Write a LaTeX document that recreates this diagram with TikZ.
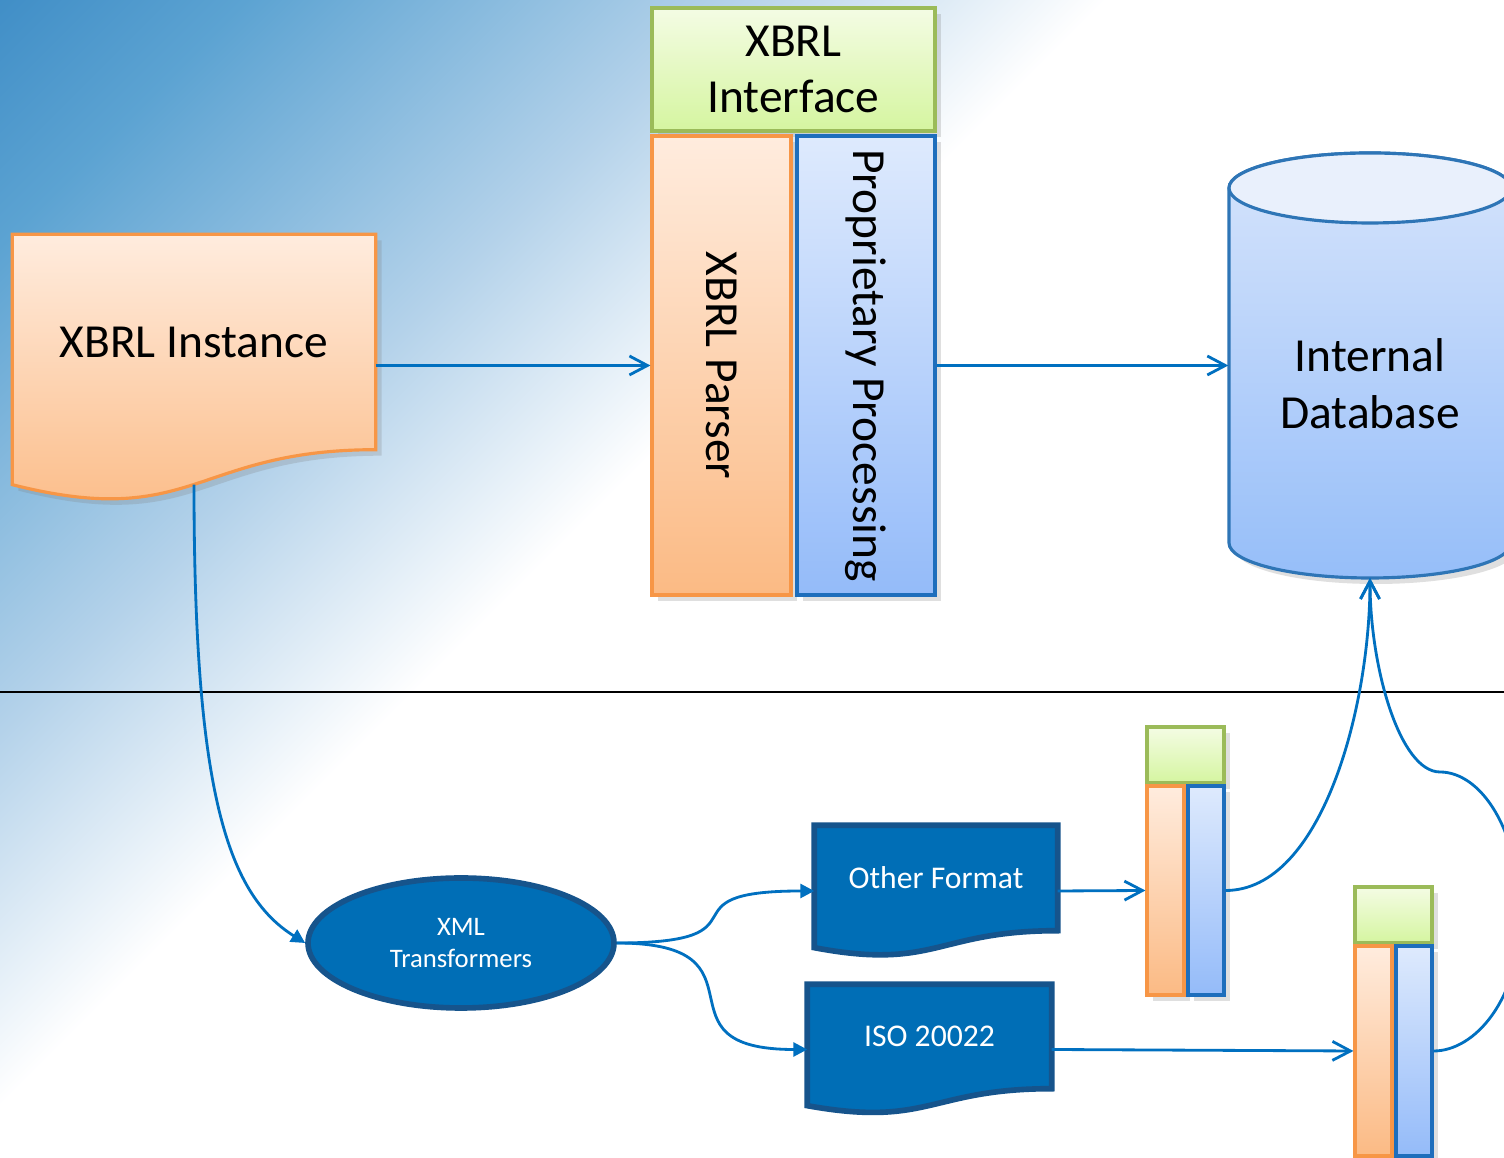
\documentclass[tikz,border=0pt]{standalone}
\usepackage{fontspec}
\setmainfont{Carlito}
\usetikzlibrary{arrows.meta,shadows,backgrounds,shapes.geometric}

\definecolor{lineblue}{RGB}{0,112,192}
\definecolor{darkblue}{RGB}{0,110,182}
\definecolor{rimblue}{RGB}{22,84,140}
\definecolor{orangetop}{RGB}{255,236,222}
\definecolor{orangebot}{RGB}{251,186,132}
\definecolor{orangerim}{RGB}{247,150,70}
\definecolor{greentop}{RGB}{244,252,228}
\definecolor{greenbot}{RGB}{213,245,160}
\definecolor{greenrim}{RGB}{155,187,89}
\definecolor{bluetop}{RGB}{222,234,253}
\definecolor{bluebot}{RGB}{148,187,249}
\definecolor{bluerim}{RGB}{30,110,188}
\definecolor{captop}{RGB}{233,240,252}
\definecolor{cyltop}{RGB}{214,228,251}
\definecolor{cylbot}{RGB}{150,190,249}
\definecolor{cylrim}{RGB}{46,117,182}
\definecolor{bgA}{RGB}{63,141,198}
\definecolor{bgB}{RGB}{92,163,210}
\definecolor{bgC}{RGB}{180,210,234}

\pgfdeclareverticalshading{backdrop}{100bp}{color(0bp)=(white); color(56bp)=(white); color(66bp)=(bgC); color(79bp)=(bgB); color(86bp)=(bgA); color(100bp)=(bgA)}

\tikzset{
  box/.style={draw, line width=0.9pt, inner sep=0pt,
    drop shadow={opacity=0.25, shadow xshift=0.6mm, shadow yshift=-0.6mm}},
  greenbox/.style={box, draw=greenrim, top color=greentop, bottom color=greenbot},
  orangebox/.style={box, draw=orangerim, top color=orangetop, bottom color=orangebot},
  bluebox/.style={box, draw=bluerim, top color=bluetop, bottom color=bluebot},
  bigtext/.style={font=\fontsize{13.5}{16.2}\selectfont, align=center, inner sep=0pt},
  doclabel/.style={font=\fontsize{9}{10.8}\selectfont, text=white, inner sep=0pt},
  bluedoc/.style={draw=rimblue, line width=1.6pt, fill=darkblue},
  flow/.style={draw=lineblue, line width=0.8pt, -{Straight Barb[length=1.8mm,width=1.9mm]}},
  feed/.style={draw=lineblue, line width=0.8pt, -{Triangle[length=1.4mm,width=1.4mm]}}
}

\begin{document}
\begin{tikzpicture}

  \useasboundingbox (0,0) rectangle (15.04,11.58);
  \clip (0,0) rectangle (15.04,11.58);

  % backdrop and separator
  \begin{scope}[on background layer]
    \shade[shading=backdrop, shading angle=45] (0,0) rectangle (15.04,11.58);
    \draw[line width=0.6pt] (0,4.66) -- (15.04,4.66);
  \end{scope}

  % XBRL processor
  \node[greenbox, bigtext, minimum width=2.83cm, minimum height=1.23cm] (iface) at (7.935,10.885) {XBRL\\Interface};
  \node[orangebox, bigtext, minimum width=1.39cm, minimum height=4.59cm] (parser) at (7.215,7.925) {\rotatebox{-90}{XBRL Parser}};
  \node[bluebox, bigtext, minimum width=1.38cm, minimum height=4.59cm] (proc) at (8.66,7.925) {\rotatebox{-90}{Proprietary Processing}};

  % database
  \draw[line width=0.9pt, draw=cylrim, top color=cyltop, bottom color=cylbot,
        drop shadow={opacity=0.25, shadow xshift=0.6mm, shadow yshift=-0.6mm}]
    (12.29,9.70) -- (12.29,6.15) arc[start angle=180, end angle=360, x radius=1.41, y radius=0.35]
    -- (15.11,9.70) arc[start angle=0, end angle=180, x radius=1.41, y radius=0.35] -- cycle;
  \draw[line width=0.9pt, draw=cylrim, fill=captop] (13.70,9.70) ellipse[x radius=1.41, y radius=0.35];
  \node[bigtext, minimum width=2.82cm] (db) at (13.70,7.74) {Internal\\Database};
  \coordinate (dbbot) at (13.70,5.80);

  % documents
  \node[bigtext, minimum width=3.62cm, minimum height=2.14cm] (inst) at (1.94,8.16) {XBRL Instance};
  \node[doclabel, minimum width=2.42cm, minimum height=1.04cm] (other) at (9.36,2.80) {Other Format};
  \node[doclabel, minimum width=2.43cm, minimum height=1.03cm] (iso) at (9.295,1.215) {ISO 20022};

  \begin{scope}[on background layer]
    \draw[draw=orangerim, line width=0.9pt, top color=orangetop, bottom color=orangebot,
          drop shadow={opacity=0.25, shadow xshift=0.6mm, shadow yshift=-0.6mm}]
      (inst.north west) -- (inst.north east) -- (inst.south east)
      .. controls (inst.south) and ([yshift=-0.81cm]inst.south) .. ([yshift=-0.35cm]inst.south west) -- cycle;
    \draw[bluedoc] (other.north west) -- (other.north east) -- (other.south east)
      .. controls (other.south) and ([yshift=-0.40cm]other.south) .. ([yshift=-0.17cm]other.south west) -- cycle;
    \draw[bluedoc] (iso.north west) -- (iso.north east) -- (iso.south east)
      .. controls (iso.south) and ([yshift=-0.39cm]iso.south) .. ([yshift=-0.17cm]iso.south west) -- cycle;
  \end{scope}

  % transformer
  \node[ellipse, draw=rimblue, line width=1.6pt, fill=darkblue, text=white, align=center,
        minimum width=3.06cm, minimum height=1.30cm, inner sep=0pt,
        font=\fontsize{7.6}{9.1}\selectfont] (xml) at (4.61,2.15) {XML\\Transformers};

  % small processors
  \node[greenbox, minimum width=0.77cm, minimum height=0.56cm] (pi1) at (11.855,4.03) {};
  \node[orangebox, minimum width=0.37cm, minimum height=2.09cm] (pp1) at (11.655,2.675) {};
  \node[bluebox, minimum width=0.36cm, minimum height=2.09cm] (pb1) at (12.06,2.675) {};
  \node[greenbox, minimum width=0.77cm, minimum height=0.56cm] (pi2) at (13.935,2.43) {};
  \node[orangebox, minimum width=0.37cm, minimum height=2.10cm] (pp2) at (13.735,1.07) {};
  \node[bluebox, minimum width=0.36cm, minimum height=2.10cm] (pb2) at (14.14,1.07) {};

  % connectors
  \draw[flow] (inst.east |- parser.west) -- (parser.west);
  \draw[flow] (proc.east) -- (proc.east -| db.west);
  \draw[feed] ([yshift=-0.35cm]inst.south) .. controls +(0,-3.0) and +(-0.8,0.5) .. (xml.west);
  \draw[feed] (xml.east) .. controls +(1.6,0) and +(-1.6,0) .. ([yshift=-0.13cm]other.west);
  \draw[feed] (xml.east) .. controls +(1.6,0) and +(-1.6,0) .. ([yshift=-0.13cm]iso.west);
  \draw[flow] ([yshift=-0.13cm]other.east) -- (pp1.west);
  \draw[flow] ([yshift=-0.13cm]iso.east) -- (pp2.west);
  \draw[flow] (pb1.east) .. controls +(0.96,0) and +(0,-1.3) .. (dbbot);
  \draw[flow] (pb2.east) .. controls +(0.42,0) and +(0,-0.8) .. (15.2,2.4)
    .. controls +(0,0.9) and +(0.4,0) .. (14.40,3.86)
    .. controls +(-0.4,0) and +(0,-0.9) .. (dbbot);

\end{tikzpicture}
\end{document}
